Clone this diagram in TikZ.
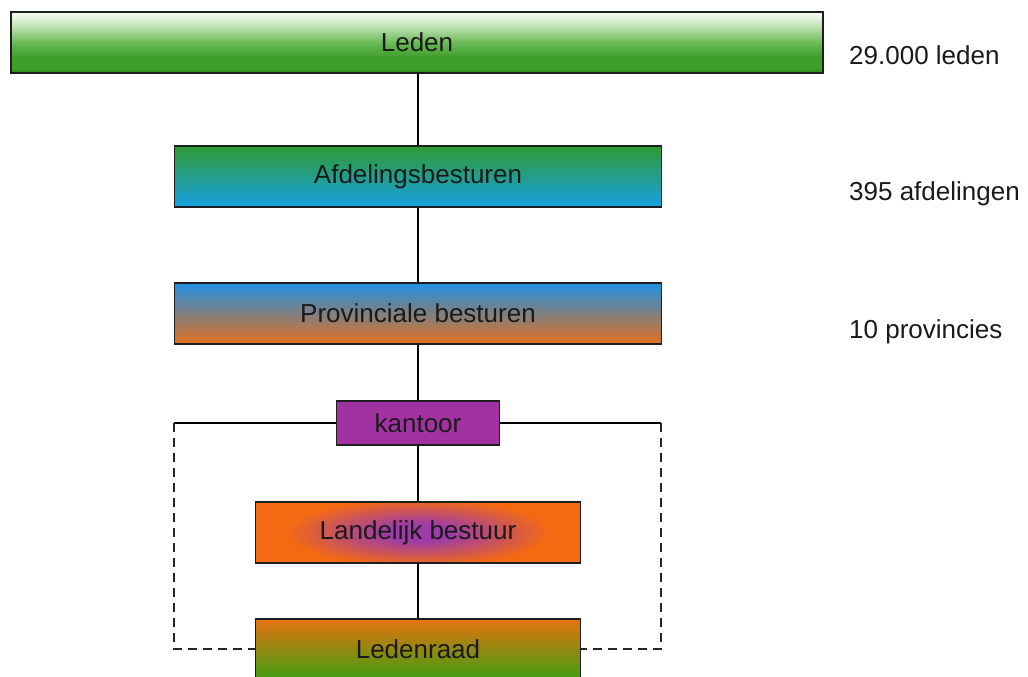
\documentclass[tikz,border=0pt]{standalone}
\usepackage{fontspec}
\setmainfont{Liberation Sans}
\definecolor{ledtop}{HTML}{F2F9F0}
\definecolor{ledlight}{HTML}{C4E4B8}
\definecolor{ledmid}{HTML}{6CBA58}
\definecolor{ledgreen}{HTML}{3E9E2A}
\definecolor{ledbot}{HTML}{2A8618}
\definecolor{afdtop}{HTML}{2F9A33}
\definecolor{afdbot}{HTML}{18A0E4}
\definecolor{provtop}{HTML}{2090E2}
\definecolor{provbot}{HTML}{E2701E}
\definecolor{kanfill}{HTML}{A232A2}
\definecolor{lborange}{HTML}{F46A12}
\definecolor{lbpurple}{HTML}{9E3CA8}
\definecolor{lrtop}{HTML}{E47210}
\definecolor{lrbot}{HTML}{3EA012}
\definecolor{boxline}{HTML}{1E1E1E}
\definecolor{txt}{HTML}{1A1A1A}
\pgfdeclareverticalshading{ledenshade}{100bp}{color(0bp)=(ledbot); color(25bp)=(ledbot); color(29bp)=(ledgreen); color(38bp)=(ledgreen); color(50bp)=(ledmid); color(64bp)=(ledlight); color(73bp)=(ledtop); color(100bp)=(ledtop)}
\pgfdeclareradialshading{landshade}{\pgfpoint{0bp}{0bp}}{color(0bp)=(lbpurple); color(5bp)=(lbpurple); color(20bp)=(lborange); color(25bp)=(lborange); color(50bp)=(lborange)}
\tikzset{
  box/.style={draw=boxline, line width=1.5pt, inner sep=0pt, anchor=center,
    font=\fontsize{26}{31}\selectfont, text=txt},
  link/.style={draw=black, line width=1.3pt},
  dlink/.style={draw=black!85, line width=1.3pt, dash pattern=on 9pt off 6pt},
  note/.style={anchor=base west, inner sep=0pt, font=\fontsize{26}{31}\selectfont, text=txt}
}
\begin{document}
\begin{tikzpicture}[x=1pt,y=-1pt]
\useasboundingbox (0,0) rectangle (1028,677);
\node[box, minimum width=812pt, minimum height=61pt, shading=ledenshade] (leden) at (417,42.5) {Leden};
\node[box, minimum width=487pt, minimum height=61pt, top color=afdtop, bottom color=afdbot] (afd) at (418,176.5) {Afdelingsbesturen};
\node[box, minimum width=487pt, minimum height=61pt, top color=provtop, bottom color=provbot] (prov) at (418,313.5) {Provinciale besturen};
\node[box, minimum width=163pt, minimum height=44pt, fill=kanfill] (kan) at (418,423) {kantoor};
\node[box, minimum width=325pt, minimum height=61pt, fill=lborange,
  path picture={\shade[shading=landshade] (path picture bounding box.center) ellipse (165pt and 42pt);}] (land) at (418,532.5) {Landelijk bestuur};
\node[box, minimum width=325pt, minimum height=61pt, top color=lrtop, bottom color=lrbot] (lraad) at (418,649.5) {Ledenraad};

\node[note] (n1) at (849,65) {29.000 leden};
\node[note] (n2) at (849,200) {395 afdelingen};
\node[note] (n3) at (849,338) {10 provincies};

\coordinate (cl) at (174,423);
\coordinate (cr) at (661,423);
\coordinate (bl) at (174,649);
\coordinate (br) at (661,649);

\draw[link] (leden.south -| afd.north) -- (afd.north);
\draw[link] (afd.south) -- (prov.north);
\draw[link] (prov.south) -- (kan.north);
\draw[link] (kan.south) -- (land.north);
\draw[link] (land.south) -- (lraad.north);
\draw[link] (kan.west) -- (cl);
\draw[link] (kan.east) -- (cr);
\draw[dlink] (cl) -- (bl) -- (bl -| lraad.west);
\draw[dlink] (cr) -- (br) -- (br -| lraad.east);
\end{tikzpicture}
\end{document}
